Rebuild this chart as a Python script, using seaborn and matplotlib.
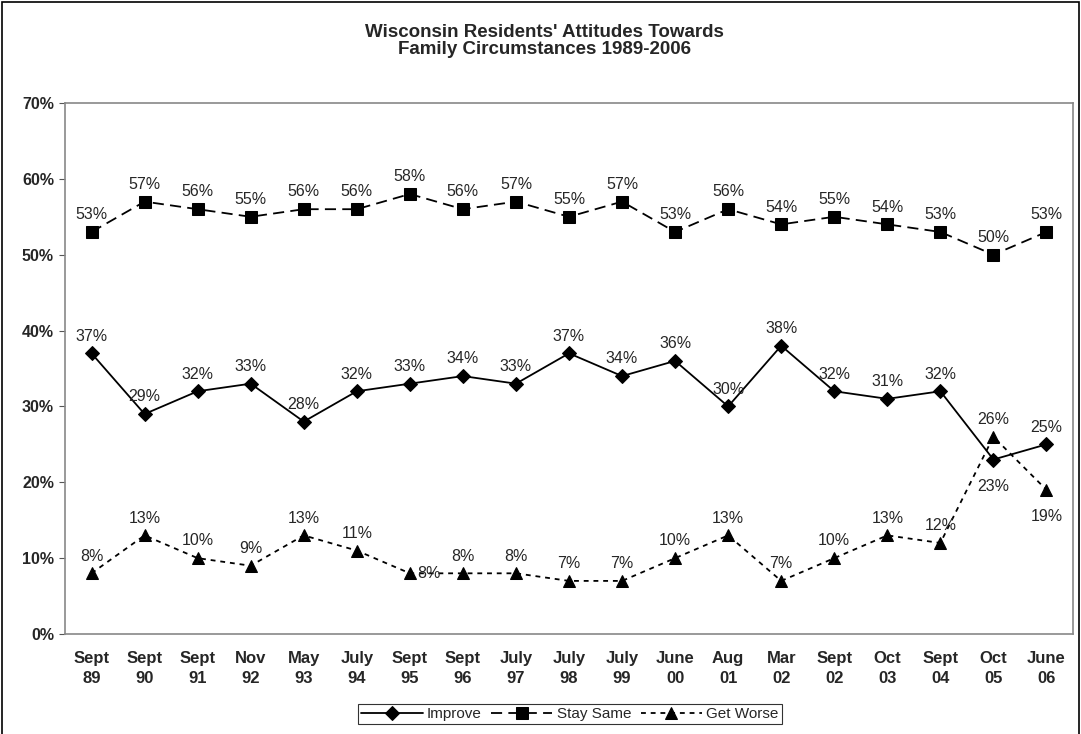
import matplotlib
matplotlib.use("Agg")
import matplotlib.pyplot as plt
import pandas as pd
import seaborn as sns
from matplotlib.patches import Rectangle

months = ["Sept", "Sept", "Sept", "Nov", "May", "July", "Sept", "Sept", "July", "July",
          "July", "June", "Aug", "Mar", "Sept", "Oct", "Sept", "Oct", "June"]
years = ["89", "90", "91", "92", "93", "94", "95", "96", "97", "98",
         "99", "00", "01", "02", "02", "03", "04", "05", "06"]
improve = [37, 29, 32, 33, 28, 32, 33, 34, 33, 37, 34, 36, 30, 38, 32, 31, 32, 23, 25]
stay_same = [53, 57, 56, 55, 56, 56, 58, 56, 57, 55, 57, 53, 56, 54, 55, 54, 53, 50, 53]
get_worse = [8, 13, 10, 9, 13, 11, 8, 8, 8, 7, 7, 10, 13, 7, 10, 13, 12, 26, 19]

labels = [f"{m}\n{y}" for m, y in zip(months, years)]
idx = list(range(len(labels)))

sns.set_theme(style="white")
plt.rcParams["font.family"] = ["Liberation Sans", "DejaVu Sans"]

fig = plt.figure(figsize=(10.81, 7.34), dpi=100)
ax = fig.add_axes([65 / 1081, 1 - 634 / 734, (1073 - 65) / 1081, (634 - 103) / 734])

series = [
    ("Improve", improve, "D", None),
    ("Stay Same", stay_same, "s", (8, 4.5)),
    ("Get Worse", get_worse, "^", (3.5, 3.5)),
]
for name, vals, mk, dash in series:
    df = pd.DataFrame({"x": idx, "y": vals})
    sns.lineplot(data=df, x="x", y="y", ax=ax, color="black", linewidth=1.3,
                 marker=mk, markersize=8.5 if mk != "D" else 7.5, markeredgecolor="black",
                 markerfacecolor="black", label=name)
    if dash is not None:
        ax.lines[-1].set_dashes([d / 1.3 for d in dash])

# data labels
below = {("Improve", 17), ("Get Worse", 18)}
right = {("Get Worse", 6)}
for name, vals, mk, dash in series:
    for i, v in enumerate(vals):
        if (name, i) in below:
            ax.annotate(f"{v}%", (i, v), xytext=(0, -14), textcoords="offset points",
                        ha="center", va="top", fontsize=11.5)
        elif (name, i) in right:
            ax.annotate(f"{v}%", (i, v), xytext=(5, 0), textcoords="offset points",
                        ha="left", va="center", fontsize=11.5)
        else:
            ax.annotate(f"{v}%", (i, v), xytext=(0, 7), textcoords="offset points",
                        ha="center", va="bottom", fontsize=11.5)

ax.set_xlim(-0.5, len(labels) - 0.5)
ax.set_ylim(0, 70)
ax.set_xticks(idx)
ax.set_xticklabels(labels, fontweight="bold", fontsize=12, linespacing=1.45)
ax.set_yticks(range(0, 71, 10))
ax.set_yticklabels([f"{t}%" for t in range(0, 71, 10)], fontweight="bold", fontsize=11.5)
ax.tick_params(axis="x", length=0, pad=12)
ax.tick_params(axis="y", length=4, width=0.8, color="#555555", direction="out", left=True, pad=4)
ax.set_xlabel("")
ax.set_ylabel("")
for sp in ax.spines.values():
    sp.set_color("#888888")
    sp.set_linewidth(1.2)

fig.text(544 / 1081, 1 - 41 / 734, "Wisconsin Residents' Attitudes Towards\nFamily Circumstances 1989-2006",
         ha="center", va="center", fontsize=13.5, fontweight="bold", linespacing=1.05)

leg = ax.legend(loc="center", bbox_to_anchor=(570 / 1081, 1 - 714 / 734), bbox_transform=fig.transFigure,
                ncol=3, frameon=True, fancybox=False, edgecolor="black", fontsize=11,
                handlelength=4, handletextpad=0.3, columnspacing=0.6, borderpad=0.2)
leg.get_frame().set_linewidth(0.8)

fig.patches.append(Rectangle((2 / 1081, -0.01), 1077 / 1081, 1 - 2 / 734 + 0.01,
                             transform=fig.transFigure, fill=False, edgecolor="black",
                             linewidth=1.2))

fig.savefig("out.png", dpi=100, facecolor="white")
